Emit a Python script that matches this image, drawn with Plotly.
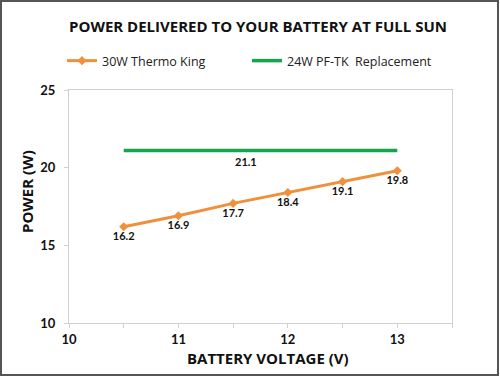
import plotly.graph_objects as go

voltage = [10.5, 11, 11.5, 12, 12.5, 13]
thermo_king = [16.2, 16.9, 17.7, 18.4, 19.1, 19.8]
pf_tk_x = [10.5, 13]
pf_tk = [21.1, 21.1]
pf_tk_label = "21.1"

L, R, T, B = 69, 48, 90, 53
W, H = 500, 376
pw, ph = W - L - R, H - T - B

fig = go.Figure()
fig.add_trace(go.Scatter(
    x=voltage, y=thermo_king, mode="lines+markers+text", name="30W Thermo King",
    line=dict(color="#F0903C", width=3), marker=dict(symbol="diamond", size=7, color="#F0903C"),
    text=[f"<b>{v:.1f}</b>" for v in thermo_king], textposition="bottom center",
    textfont=dict(family="Lato", size=11, color="#111"),
))
fig.add_trace(go.Scatter(
    x=pf_tk_x, y=pf_tk, mode="lines", name="24W PF-TK  Replacement",
    line=dict(color="#16A54F", width=3.5),
))
fig.add_annotation(x=11.62, y=pf_tk[0], text=f"<b>{pf_tk_label}</b>", showarrow=False,
                   yshift=-11, font=dict(family="Lato", size=11, color="#111"))

def px(xp):
    return (xp - L) / pw

def py(yp):
    return (H - B - yp) / ph

fig.add_shape(type="rect", xref="paper", yref="paper",
              x0=px(1), x1=px(498), y0=py(375), y1=py(1),
              line=dict(color="#555", width=2), layer="above")

# axis titles as annotations for exact placement
fig.add_annotation(xref="paper", yref="paper", x=px(268), y=py(358), text="<b>BATTERY VOLTAGE (V)</b>",
                   showarrow=False, xanchor="center", yanchor="middle",
                   font=dict(family="Open Sans", size=15, color="#111"))
fig.add_annotation(xref="paper", yref="paper", x=px(27), y=py(192), text="<b>POWER (W)</b>",
                   showarrow=False, xanchor="center", yanchor="middle", textangle=-90,
                   font=dict(family="Open Sans", size=15, color="#111"))

fig.update_layout(
    width=W, height=H, margin=dict(l=L, r=R, t=T, b=B, autoexpand=False),
    paper_bgcolor="white", plot_bgcolor="white",
    title=dict(text="<b>POWER DELIVERED TO YOUR BATTERY AT FULL SUN</b>",
               xref="container", x=258 / W, xanchor="center", yref="container", y=1 - 27 / H, yanchor="middle",
               font=dict(family="Open Sans", size=15, color="#111")),
    legend=dict(orientation="h", x=px(62), xanchor="left", y=py(61), yanchor="middle",
                font=dict(family="Open Sans", size=12.5, color="#222"),
                entrywidth=140, entrywidthmode="pixels", itemwidth=30),
    font=dict(family="Lato", color="#111"),
    xaxis=dict(range=[10, 13.5], tickvals=[10, 11, 12, 13], ticktext=["<b>10</b>", "<b>11</b>", "<b>12</b>", "<b>13</b>"],
               showgrid=False, zeroline=False, showline=True, linecolor="#D0D0D0", linewidth=1, mirror=True,
               ticks="outside", ticklen=4, tickcolor="#D0D0D0",
               minor=dict(tickvals=[10.5, 11.5, 12.5, 13.5], ticks="outside", ticklen=4, tickcolor="#D0D0D0"),
               tickfont=dict(family="Lato", size=13, color="#111")),
    yaxis=dict(range=[10, 25], tickvals=[10, 15, 20, 25], ticktext=["<b>10</b>", "<b>15</b>", "<b>20</b>", "<b>25</b>"],
               showgrid=False, zeroline=False, showline=True, linecolor="#D0D0D0", linewidth=1, mirror=True,
               ticks="outside", ticklen=4, tickcolor="#D0D0D0", ticklabelstandoff=6,
               tickfont=dict(family="Lato", size=13, color="#111")),
)
fig.write_html("out.html", config={"displayModeBar": False},
               post_script="document.body.style.margin='0';")
